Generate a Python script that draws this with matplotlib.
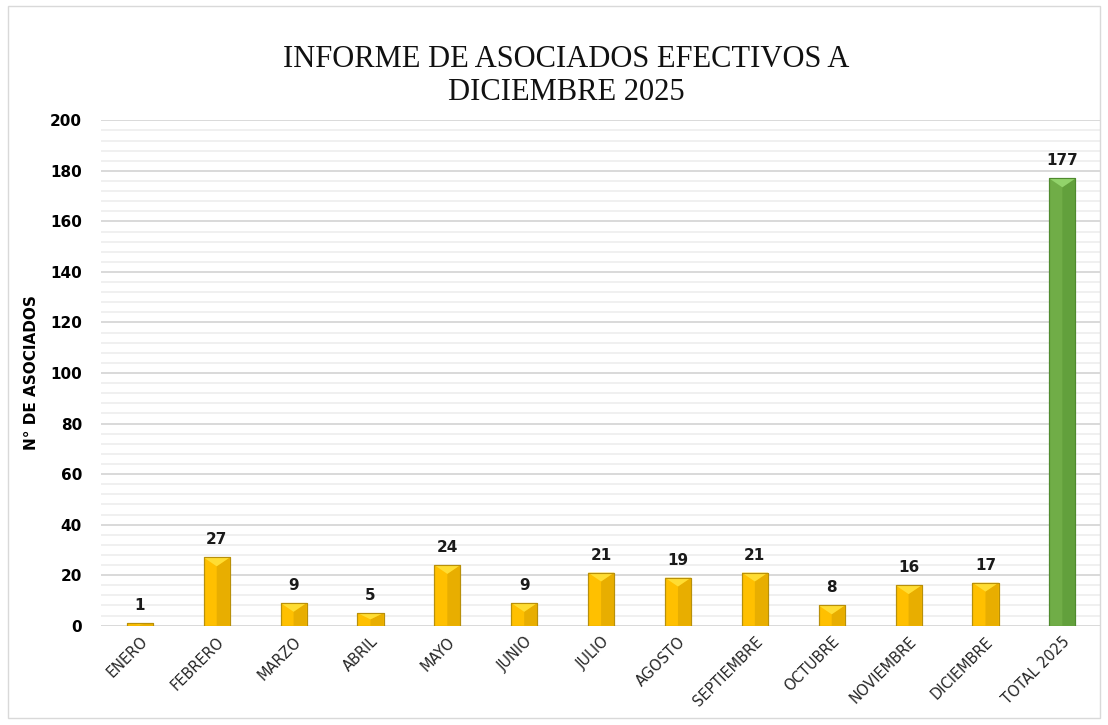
import numpy as np
import matplotlib.pyplot as plt
from matplotlib.patches import Polygon, Rectangle

# datos
meses = ['ENERO', 'FEBRERO', 'MARZO', 'ABRIL', 'MAYO', 'JUNIO', 'JULIO',
         'AGOSTO', 'SEPTIEMBRE', 'OCTUBRE', 'NOVIEMBRE', 'DICIEMBRE', 'TOTAL 2025']
asociados = [1, 27, 9, 5, 24, 9, 21, 19, 21, 8, 16, 17, 177]
titulo = 'INFORME DE ASOCIADOS EFECTIVOS A\nDICIEMBRE 2025'

# colores: (base, claro, oscuro, borde)
dorado = ('#FFC000', '#FFDD33', '#E8AE00', '#B8900A')
verde = ('#70AD47', '#92D36B', '#62A03C', '#4F8A2E')

fig = plt.figure(figsize=(11.08, 7.25), dpi=100)
ax = fig.add_axes([0.0915, 0.137, 0.902, 0.697])

# marco exterior
fig.patches.append(Rectangle((0.007, 0.01), 0.986, 0.982, transform=fig.transFigure,
                             fill=False, edgecolor='#D9D9D9', linewidth=1))

x = np.arange(len(meses))
ancho = 0.34
colores = [verde if m.startswith('TOTAL') else dorado for m in meses]

barras = ax.bar(x, asociados, width=ancho, color=[c[0] for c in colores],
                edgecolor=[c[3] for c in colores], linewidth=0.8, zorder=3)

# efecto biselado
for b, c in zip(barras, colores):
    x0, w, h = b.get_x(), b.get_width(), b.get_height()
    xc = x0 + w / 2
    bis = min(3.5, h / 2)
    ax.add_patch(Polygon([(xc, 0), (x0 + w, 0), (x0 + w, h), (xc, h - bis)],
                         closed=True, color=c[2], zorder=4, linewidth=0))
    ax.add_patch(Polygon([(x0, h), (x0 + w, h), (xc, h - bis)],
                         closed=True, color=c[1], zorder=5, linewidth=0))
    ax.add_patch(Rectangle((x0, 0), w, h, fill=False, edgecolor=c[3],
                           linewidth=0.8, zorder=6))
    ax.text(xc, h + 4, str(int(h)), ha='center', va='bottom',
            fontsize=11, fontweight='bold', color='#1a1a1a', zorder=7)

ax.set_xlim(-0.5, len(meses) - 0.5)
ax.set_ylim(0, 200)
ax.set_yticks(np.arange(0, 201, 20))
ax.set_yticks(np.arange(0, 201, 4), minor=True)
ax.grid(which='major', axis='y', color='#D9D9D9', linewidth=1.4, zorder=0)
ax.grid(which='minor', axis='y', color='#EDEDED', linewidth=1.2, zorder=0)
ax.set_axisbelow(True)

ax.set_xticks(x)
ax.set_xticklabels(meses, rotation=45, ha='right', rotation_mode='anchor',
                   fontsize=10.5, color='#262626')
for t in ax.get_yticklabels():
    t.set_fontweight('bold')
    t.set_fontsize(11)
ax.tick_params(axis='both', which='both', length=0)
ax.tick_params(axis='y', pad=14)
ax.tick_params(axis='x', pad=6)
for s in ax.spines.values():
    s.set_visible(False)

ax.set_ylabel('N° DE ASOCIADOS', fontsize=11, fontweight='bold', labelpad=8)

fig.text(0.511, 0.895, titulo, ha='center', va='center', fontsize=22,
         family='Liberation Serif', color='#111111', linespacing=1.15)

fig.savefig('out.png', dpi=100, facecolor='white')
